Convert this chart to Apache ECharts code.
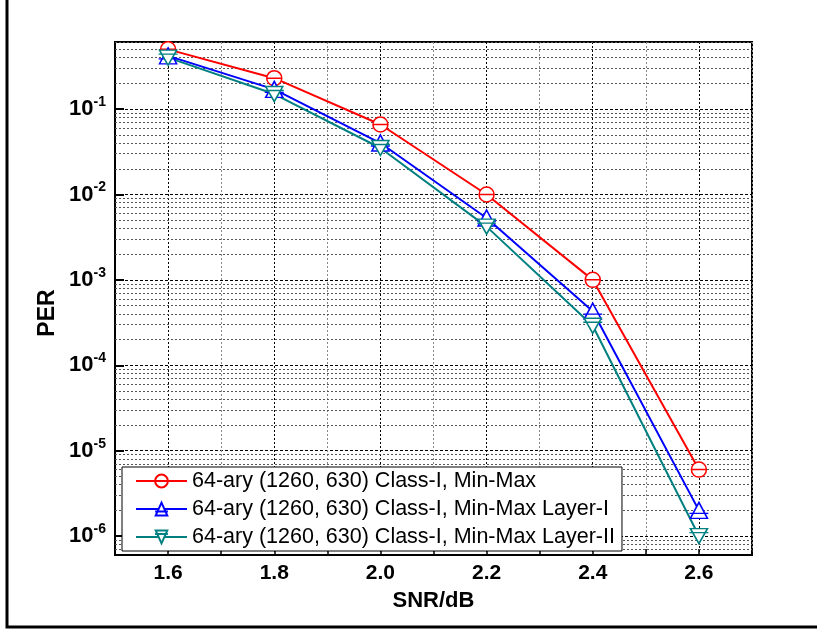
<!DOCTYPE html>
<html>
<head>
<meta charset="utf-8">
<script src="https://cdn.jsdelivr.net/npm/echarts@6/dist/echarts.min.js"></script>
<style>
  html, body { margin: 0; padding: 0; background: #fff; }
  #per { width: 817px; height: 630px; }
</style>
</head>
<body>
<div id="per"></div>
<script>
// SNR points (dB)
var snr = [1.6, 1.8, 2.0, 2.2, 2.4, 2.6];
// PER curves
var perMinMax = [0.50, 0.23, 0.066, 0.010, 1.0e-3, 6.0e-6];
var perLayer1 = [0.42, 0.17, 0.040, 0.0053, 4.3e-4, 2.0e-6];
var perLayer2 = [0.40, 0.15, 0.035, 0.0042, 2.9e-4, 1.0e-6];
var names = [
  '64-ary (1260, 630) Class-I, Min-Max',
  '64-ary (1260, 630) Class-I, Min-Max Layer-I',
  '64-ary (1260, 630) Class-I, Min-Max Layer-II'
];
// minor grid positions inside each decade
var decades = [1e-7, 1e-6, 1e-5, 1e-4, 1e-3, 1e-2, 1e-1];
var minorSteps = [2, 3, 4, 5, 6, 7, 8, 9];
var yMin = 6e-7, yMax = 0.61;

var minorLines = [];
decades.forEach(function (d) {
  minorSteps.forEach(function (m) {
    var v = d * m;
    if (v > yMin && v < yMax) minorLines.push({ yAxis: v });
  });
});

function pairs(ys) {
  return snr.map(function (x, i) { return [x, ys[i]]; });
}

var circleSym = 'path://M1,10A9,9 0 1 1 19,10A9,9 0 1 1 1,10Z M1,10L19,10';
var upSym = 'path://M10,1L19,17L1,17Z M0,12L20,12';
var downSym = 'path://M1,0L19,0L10,15Z M0,4L20,4';

function mkSeries(name, data, color, sym, size) {
  return {
    name: name,
    type: 'line',
    data: pairs(data),
    symbol: sym,
    symbolSize: size,
    showAllSymbol: true,
    lineStyle: { color: color, width: 2 },
    itemStyle: { color: '#fff', borderColor: color, borderWidth: 1.5 },
    z: 5
  };
}

var series = [
  mkSeries(names[0], perMinMax, '#ff0000', circleSym, [15, 15]),
  mkSeries(names[1], perLayer1, '#0000ff', upSym, [19, 16]),
  mkSeries(names[2], perLayer2, '#008080', downSym, [19, 15])
];
series[0].markLine = {
  silent: true,
  symbol: 'none',
  precision: 12,
  label: { show: false },
  lineStyle: { color: '#555', type: [2, 2], width: 1 },
  data: minorLines,
  z: 1
};

var chart = echarts.init(document.getElementById('per'));
chart.setOption({
  animation: false,
  backgroundColor: '#fff',
  grid: {
    left: 115, right: 65, top: 42, bottom: 75,
    show: true, borderColor: '#000', borderWidth: 2
  },
  xAxis: {
    type: 'value',
    min: 1.5, max: 2.7, interval: 0.1,
    name: 'SNR/dB',
    nameLocation: 'middle',
    nameGap: 35,
    nameTextStyle: { fontFamily: 'Liberation Sans', fontWeight: 'bold', fontSize: 22, color: '#000' },
    axisLine: { lineStyle: { color: '#000', width: 2 } },
    axisTick: { inside: true, length: 6, lineStyle: { color: '#000', width: 1.5 } },
    axisLabel: {
      margin: 8,
      fontFamily: 'Liberation Sans', fontWeight: 'bold', fontSize: 21, color: '#000',
      formatter: function (v) {
        var t = Math.round(v * 10);
        if (t % 2 !== 0) return '';
        return (t / 10).toFixed(1);
      }
    },
    splitLine: { show: true, lineStyle: { color: ['#888', '#000'], type: [2, 2], width: 1 } }
  },
  yAxis: {
    type: 'log',
    logBase: 10,
    min: yMin, max: yMax,
    axisLine: { show: true, lineStyle: { color: '#000', width: 2 } },
    axisTick: { inside: true, length: 9, lineStyle: { color: '#000', width: 2 } },
    axisLabel: {
      margin: 9,
      formatter: function (v) {
        var e = Math.log10(v);
        if (Math.abs(e - Math.round(e)) > 1e-6) return '';
        return '{b|10}{s|' + Math.round(e) + '}';
      },
      rich: {
        b: { fontFamily: 'Liberation Sans', fontWeight: 'bold', fontSize: 22, color: '#000', lineHeight: 28 },
        s: { fontFamily: 'Liberation Sans', fontWeight: 'bold', fontSize: 14, color: '#000', verticalAlign: 'top', lineHeight: 14 }
      }
    },
    splitLine: { show: true, lineStyle: { color: '#000', type: [3, 2], width: 1 } }
  },
  legend: {
    orient: 'vertical',
    left: 122, top: 467,
    backgroundColor: '#fff',
    borderColor: '#000', borderWidth: 1,
    padding: [3, 7, 3, 13],
    itemGap: 6,
    itemWidth: 51, itemHeight: 16,
    textStyle: { fontFamily: 'Liberation Sans', fontSize: 21.5, color: '#000', lineHeight: 21 },
    data: names
  },
  graphic: [
    {
      type: 'polyline',
      shape: { points: [[7, 0], [7, 627], [817, 627]] },
      style: { fill: null, stroke: '#000', lineWidth: 3 },
      silent: true
    },
    {
      type: 'text',
      x: 48, y: 313,
      rotation: Math.PI / 2,
      style: {
        text: 'PER', fontFamily: 'Liberation Sans', fontWeight: 'bold', fontSize: 23,
        fill: '#000', align: 'center', verticalAlign: 'middle'
      }
    }
  ],
  series: series
});
</script>
</body>
</html>
